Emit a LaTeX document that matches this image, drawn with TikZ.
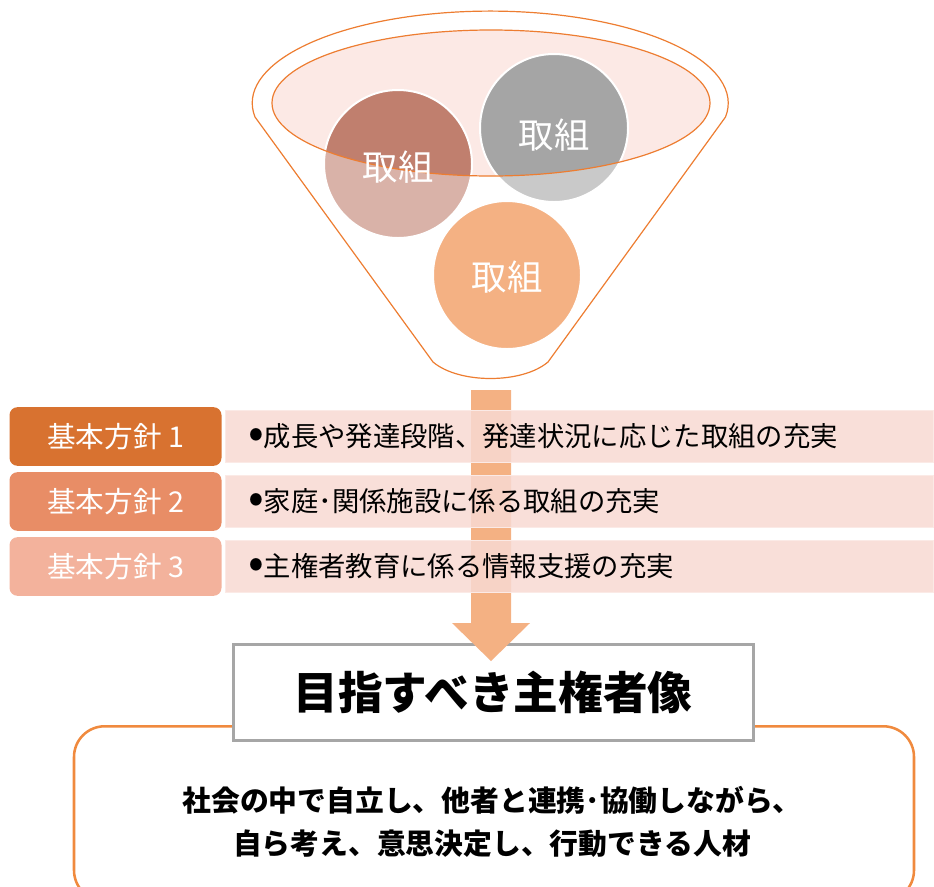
\documentclass[tikz,border=0pt]{standalone}
\usepackage{fontspec}
\setmainfont{Noto Sans CJK JP}
\definecolor{funnelline}{HTML}{ED7D31}
\definecolor{funnelpink}{HTML}{FCE9E5}
\definecolor{workA}{HTML}{C07F6E}
\definecolor{workB}{HTML}{A5A5A5}
\definecolor{workC}{HTML}{F4B183}
\definecolor{policyA}{HTML}{D87230}
\definecolor{policyB}{HTML}{E88D66}
\definecolor{policyC}{HTML}{F3B29C}
\definecolor{barpink}{HTML}{F8D9D2}
\definecolor{goalgray}{HTML}{A6A6A6}
\definecolor{peopleline}{HTML}{F08A3E}
\newcommand{\barbullet}{\raisebox{-1.2pt}{\scalebox{1.7}{•}}}

\begin{document}
\begin{tikzpicture}[x=0.75pt, y=-0.75pt,
  torikumi/.style={circle, draw=white, line width=1.5pt, minimum size=111pt,
    inner sep=0pt, text=white, font=\fontsize{26}{30}\selectfont},
  policy/.style={rounded corners=6pt, minimum width=159pt, minimum height=44pt,
    inner sep=0pt, text=white, font=\fontsize{21.5}{24}\selectfont},
  policybar/.style={anchor=west, fill=barpink, fill opacity=0.85, text opacity=1,
    draw=white!45!barpink, line width=0.75pt, text width=497pt, align=left,
    inner xsep=17pt, minimum height=39pt, font=\fontsize{20.5}{24}\selectfont},
  goalbox/.style={draw=goalgray, line width=2.25pt, fill=white, minimum width=390pt,
    minimum height=72pt, font=\fontsize{33.5}{38}\selectfont\bfseries},
  peoplebox/.style={draw=peopleline, line width=1.9pt, rounded corners=23pt, fill=white,
    minimum width=630pt, minimum height=131pt, anchor=north},
  >=latex]
  \useasboundingbox (0,0) rectangle (934,886);

  % --- Funnel ---
  \fill[funnelpink] (491,103) ellipse [x radius=219, y radius=73];
  \node[torikumi, fill=workA] (workA) at (398,164) {};
  \node[torikumi, fill=workB] (workB) at (554,128) {};
  % lower part of the funnel veils the circles
  \fill[white, fill opacity=0.4, even odd rule]
    (433,362) -- (255,117) arc[start angle=171.3, end angle=368.7, x radius=238, y radius=92]
    -- (548,362) .. controls (522,384) and (459,384) .. (433,362) -- cycle
    (491,103) ellipse [x radius=219, y radius=73];
  \draw[funnelline, line width=0.9pt]
    (433,362) -- (255,117) arc[start angle=171.3, end angle=368.7, x radius=238, y radius=92]
    -- (548,362) .. controls (522,384) and (459,384) .. (433,362) -- cycle;
  \draw[funnelline, line width=0.9pt] (491,103) ellipse [x radius=219, y radius=73];
  \node[torikumi, fill=workC] (workC) at (507,275) {};
  \foreach \c/\dy in {workA/3, workB/7, workC/2}
    \node[text=white, font=\fontsize{26.5}{30}\selectfont] at ([yshift=-\dy*0.75pt]\c) {取組};

  % --- Goal ---
  \node[peoplebox] (people) at (494,725) {};
  \node[align=center, font=\fontsize{21.6}{32}\selectfont\bfseries] (peopletext) at (492,822)
    {社会の中で自立し、他者と連携･協働しながら、\\自ら考え、意思決定し、行動できる人材};
  \node[goalbox] (goal) at (493,692) {目指すべき主権者像};

  % --- Flow arrow ---
  \coordinate (flow) at (491,390);
  \fill[workC] (flow) ++(-20,0) -- ++(0,233) -- ++(-19,0) -- (flow |- 0,661)
    -- (530,623) -- ++(-19,0) -- ++(0,-233) -- cycle;

  % --- Basic policies ---
  \foreach \i/\col/\y/\txt in {1/policyA/436.5/成長や発達段階、発達状況に応じた取組の充実,
      2/policyB/501.5/家庭･関係施設に係る取組の充実,
      3/policyC/566.5/主権者教育に係る情報支援の充実} {
    \node[policy, fill=\col] (policy\i) at (115.5,\y) {基本方針 \i};
    \node[policybar] (bar\i) at (225,\y) {\barbullet\txt};
  }
\end{tikzpicture}
\end{document}
